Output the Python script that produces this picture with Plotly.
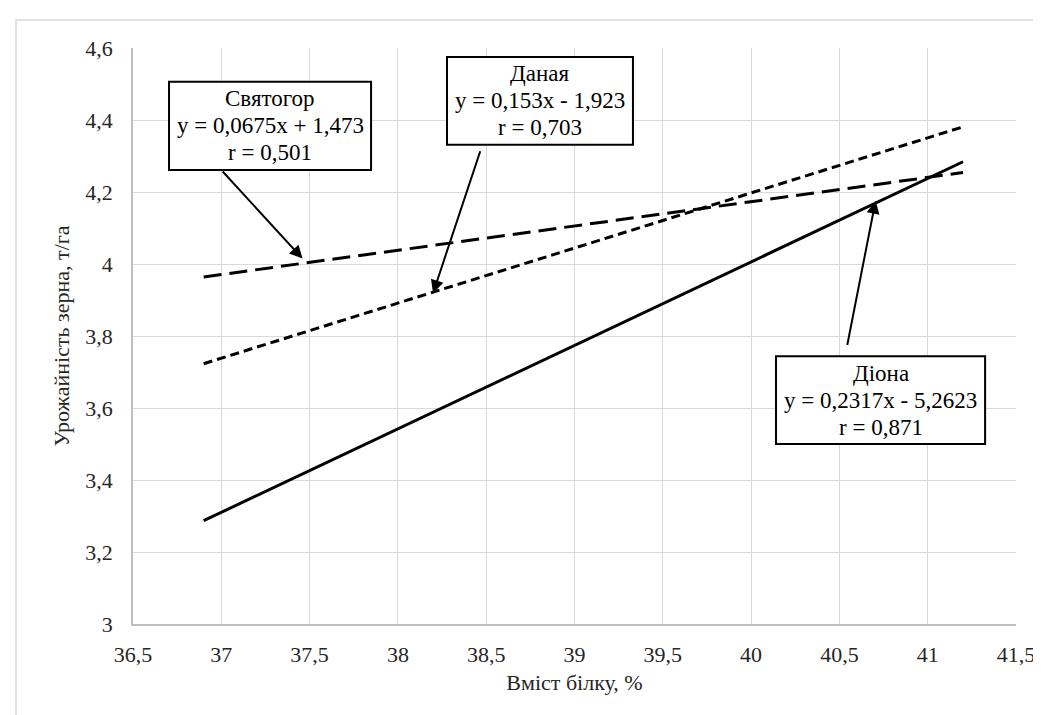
import plotly.graph_objects as go

# Trend-line endpoints (protein content, %) and yields (t/ha)
x_range = [36.9, 41.2]
svyatogor_y = [3.964, 4.254]
danaya_y = [3.723, 4.381]
diona_y = [3.287, 4.284]

names = ["Святогор", "Даная", "Діона"]
equations = ["y = 0,0675x + 1,473", "y = 0,153x - 1,923", "y = 0,2317x - 5,2623"]
r_values = ["r = 0,501", "r = 0,703", "r = 0,871"]

x_ticks = [36.5, 37, 37.5, 38, 38.5, 39, 39.5, 40, 40.5, 41, 41.5]
y_ticks = [3, 3.2, 3.4, 3.6, 3.8, 4, 4.2, 4.4, 4.6]

FONT = "Liberation Serif"

fig = go.Figure()
fig.add_trace(go.Scatter(x=x_range, y=svyatogor_y, mode="lines",
                         line=dict(color="black", width=3, dash="18px,8px"), name=names[0]))
fig.add_trace(go.Scatter(x=x_range, y=danaya_y, mode="lines",
                         line=dict(color="black", width=3, dash="9px,5px"), name=names[1]))
fig.add_trace(go.Scatter(x=x_range, y=diona_y, mode="lines",
                         line=dict(color="black", width=3), name=names[2]))

# label boxes (x0, x1, y0, y1) in axis units
boxes = [(36.704, 37.848, 4.261, 4.506), (38.278, 39.331, 4.331, 4.575),
         (40.141, 41.325, 3.5, 3.744)]
for (x0, x1, y0, y1), n, e, r in zip(boxes, names, equations, r_values):
    fig.add_shape(type="rect", xref="x", yref="y", x0=x0, x1=x1, y0=y0, y1=y1,
                  line=dict(color="black", width=2), fillcolor="white", layer="above")
    cx, cy = (x0 + x1) / 2, (y0 + y1) / 2
    for txt, shift in zip([n, e, r], [27, 0, -27]):
        fig.add_annotation(x=cx, y=cy, xref="x", yref="y", showarrow=False,
                           text=txt, yshift=shift, xanchor="center", yanchor="middle",
                           font=dict(family=FONT, size=23, color="black"))

# arrows: (tip x, tip y, tail x, tail y)
arrows = [(37.46, 4.015, 37.0, 4.261), (38.199, 3.919, 38.469, 4.3175),
          (40.705, 4.176, 40.543, 3.771)]
for tx, ty, sx, sy in arrows:
    fig.add_annotation(x=tx, y=ty, ax=sx, ay=sy, xref="x", yref="y",
                       axref="x", ayref="y", text="", showarrow=True,
                       arrowhead=2, arrowsize=1.3, arrowwidth=2, arrowcolor="black")

fig.add_shape(type="rect", xref="paper", yref="paper",
              x0=-0.1325, y0=-0.18, x1=1.042, y1=1.0486,
              line=dict(color="#d9d9d9", width=1.5), fillcolor="rgba(0,0,0,0)", layer="below")

fig.update_layout(
    width=1041, height=715,
    margin=dict(l=125, r=33, t=40, b=99),
    paper_bgcolor="white", plot_bgcolor="white",
    separators=", ",
    showlegend=False,
    font=dict(family=FONT, size=22, color="#262626"),
    xaxis=dict(range=[36.5, 41.5], tickvals=x_ticks, showgrid=True, gridcolor="#d9d9d9",
               gridwidth=1, zeroline=False, showline=True, linecolor="#bfbfbf", linewidth=1.5,
               ticks="", ticklabelstandoff=10,
               tickfont=dict(family=FONT, size=22, color="#262626"),
               title=dict(text="Вміст білку, %", standoff=8,
                          font=dict(family=FONT, size=22, color="#262626"))),
    yaxis=dict(range=[3, 4.6], tickvals=y_ticks, showgrid=True, gridcolor="#d9d9d9",
               gridwidth=1, zeroline=False, showline=True, linecolor="#bfbfbf", linewidth=1.5,
               ticks="", ticklabelstandoff=14,
               tickfont=dict(family=FONT, size=22, color="#262626"),
               title=dict(text="Урожайність зерна, т/га", standoff=10,
                          font=dict(family=FONT, size=22, color="#262626"))),
)

fig.write_html("out.html")
